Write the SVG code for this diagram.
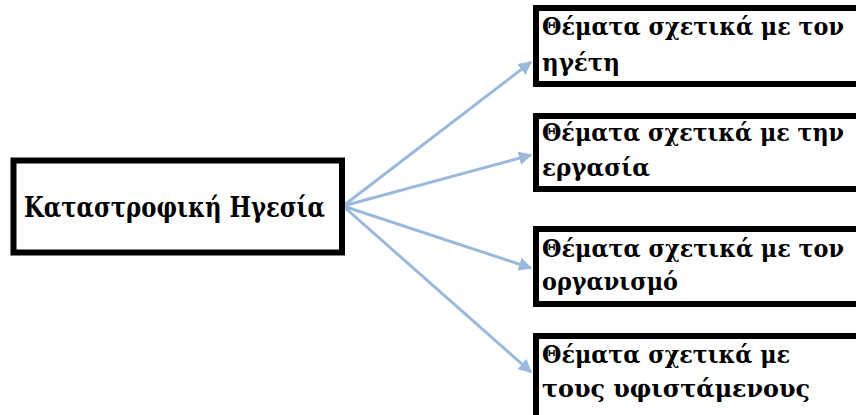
<svg xmlns="http://www.w3.org/2000/svg" width="856" height="415" viewBox="0 0 856 415">
<style>
.box{fill:#fff;stroke:#000;stroke-width:6}
.t{font-family:"DejaVu Serif Condensed","DejaVu Serif","Liberation Serif",serif;font-stretch:condensed;font-weight:bold;fill:#000}
.main{font-size:27px}
.sub{font-size:25px}
.c{stroke:#9ab9dc;stroke-width:3;fill:none;marker-end:url(#ah)}
</style>
<defs>
<marker id="ah" viewBox="0 0 10 10" refX="9" refY="5" markerWidth="4.5" markerHeight="4.5" orient="auto" markerUnits="strokeWidth">
<path d="M0,0 L10,5 L0,10 z" fill="#9ab9dc"/>
</marker>
</defs>
<rect width="856" height="415" fill="#fff"/>
<g id="connectors">
<line class="c" x1="343" y1="206" x2="531" y2="62"/>
<line class="c" x1="343" y1="206" x2="531" y2="155"/>
<line class="c" x1="343" y1="206" x2="531" y2="268"/>
<line class="c" x1="343" y1="206" x2="531" y2="372"/>
</g>
<g id="n0">
<rect class="box" x="13.5" y="160.5" width="328.5" height="92"/>
<text class="t main" x="24" y="217" textLength="301" lengthAdjust="spacingAndGlyphs">Καταστροφική Ηγεσία</text>
</g>
<g id="n1">
<rect class="box" x="536" y="8" width="340" height="76"/>
<text class="t sub" x="542" y="35" textLength="302" lengthAdjust="spacingAndGlyphs">Θέματα σχετικά με τον</text>
<text class="t sub" x="542" y="71" textLength="78" lengthAdjust="spacingAndGlyphs">ηγέτη</text>
</g>
<g id="n2">
<rect class="box" x="536" y="116" width="340" height="73"/>
<text class="t sub" x="542" y="141" textLength="302" lengthAdjust="spacingAndGlyphs">Θέματα σχετικά με την</text>
<text class="t sub" x="542" y="176" textLength="108" lengthAdjust="spacingAndGlyphs">εργασία</text>
</g>
<g id="n3">
<rect class="box" x="536" y="229" width="340" height="75"/>
<text class="t sub" x="542" y="257" textLength="302" lengthAdjust="spacingAndGlyphs">Θέματα σχετικά με τον</text>
<text class="t sub" x="542" y="290" textLength="136" lengthAdjust="spacingAndGlyphs">οργανισμό</text>
</g>
<g id="n4">
<rect class="box" x="536" y="336" width="340" height="100"/>
<text class="t sub" x="542" y="363" textLength="248" lengthAdjust="spacingAndGlyphs">Θέματα σχετικά με</text>
<text class="t sub" x="542" y="397" textLength="268" lengthAdjust="spacingAndGlyphs">τους υφιστάμενους</text>
</g>
</svg>
